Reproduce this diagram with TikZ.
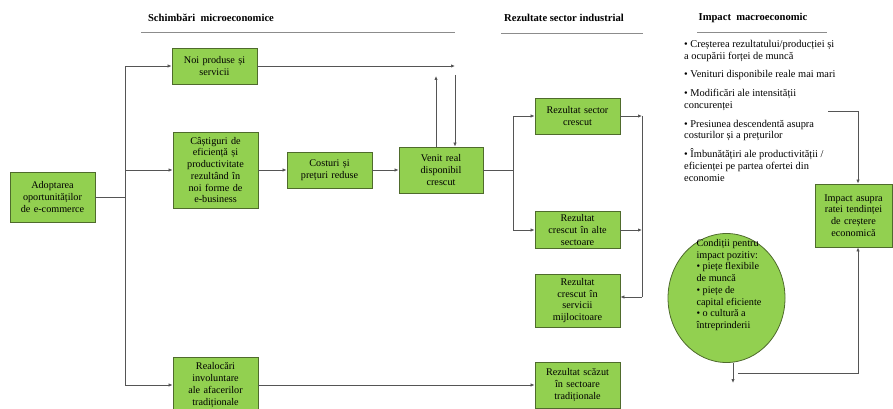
\documentclass[tikz,border=0pt]{standalone}
\usepackage{fontspec}
\setmainfont{Liberation Serif}
\usetikzlibrary{arrows.meta,shapes.geometric}
\definecolor{boxgreen}{HTML}{92D050}
\definecolor{boxedge}{HTML}{4F6B2C}
\definecolor{wire}{HTML}{555555}
\begin{document}
\begin{tikzpicture}[x=1pt,y=-1pt,
  every node/.style={font=\fontsize{10.2}{11.7}\selectfont},
  box/.style={draw=boxedge,fill=boxgreen,line width=0.8pt,inner sep=1pt,
    align=center,text width=#1},
  box/.default=81pt,
  heading/.style={font=\fontsize{10.6}{12}\selectfont\bfseries},
  rule/.style={draw=black!45,line width=0.8pt},
  wire/.style={draw=wire,line width=0.75pt},
  arr/.style={wire,-{Latex[length=4pt,width=3.4pt]}}]
\useasboundingbox (0,0) rectangle (893,409);
\clip (0,0) rectangle (893,409);

% column headings
\node[heading] (h1) at (211,18) {Schimbări\ \ microeconomice};
\node[heading] (h2) at (564,18) {Rezultate sector industrial};
\node[heading] (h3) at (753,18) {Impact\ \ macroeconomic};
\draw[rule] (141,32) -- (455,32);
\draw[rule] (501,33) -- (643,33);
\draw[rule] (697,32) -- (827,32);

% micro-level boxes
\node[box,minimum width=85pt,minimum height=50pt] (adopt) at (52.5,197)
  {Adoptarea\\ oportunităților\\ de e-commerce};
\node[box,minimum width=85pt,minimum height=36pt] (noi) at (214.5,66)
  {Noi produse și\\ servicii};
\node[box,minimum width=85pt,minimum height=76pt] (castig) at (215.5,170)
  {Câștiguri de\\ eficiență și\\ productivitate\\ rezultând în\\ noi forme de\\ e-business};
\node[box,minimum width=85pt,minimum height=36pt] (cost) at (329.5,170)
  {Costuri și\\ prețuri reduse};
\node[box,minimum width=84pt,minimum height=46pt] (venit) at (441,170)
  {Venit real\\ disponibil\\ crescut};
\node[box,minimum width=85pt,minimum height=56pt] (realoc) at (215.5,385)
  {Realocări\\ involuntare\\ ale afacerilor\\ tradiționale};

% sector-level boxes
\node[box,minimum width=85pt,minimum height=36pt] (rsc) at (577.5,116)
  {Rezultat sector\\ crescut};
\node[box,minimum width=85pt,minimum height=37pt] (ralte) at (577.5,230)
  {Rezultat\\ crescut în alte\\ sectoare};
\node[box,minimum width=85pt,minimum height=53pt] (serv) at (577.5,300.5)
  {Rezultat\\ crescut în\\ servicii\\ mijlocitoare};
\node[box,minimum width=85pt,minimum height=46pt] (scazut) at (577.5,385)
  {Rezultat scăzut\\ în sectoare\\ tradiționale};

% macro-level elements
\node[box=74pt,minimum width=77pt,minimum height=63pt] (impact) at (853.5,215.5)
  {Impact asupra\\ ratei tendinței\\ de creștere\\ economică};
\node[draw=boxedge,fill=boxgreen,line width=0.8pt,ellipse,
  minimum width=117pt,minimum height=129pt,inner sep=0pt] (cond) at (726.5,298) {};
\node[align=left,inner sep=0pt] (condtext) at (729,285)
  {Condiții pentru\\ impact pozitiv:\\ • piețe flexibile\\ de muncă\\ • piețe de\\
   capital eficiente\\ • o cultură a\\ întreprinderii};
\node[align=left,anchor=north west,inner sep=0pt,
  font=\fontsize{10.4}{11.7}\selectfont] (macro) at (684,40)
  {• Creșterea rezultatului/producției și\\ a ocupării forței de muncă\\[6.8pt]
   • Venituri disponibile reale mai mari\\[7.2pt]
   • Modificări ale intensității\\ concurenței\\[7.2pt]
   • Presiunea descendentă asupra\\ costurilor și a prețurilor\\[7.2pt]
   • Îmbunătățiri ale productivității /\\ eficienței pe partea ofertei din\\ economie};

% junction and free-end points
\coordinate (splitA) at (125,197);
\coordinate (topin) at (455,66);
\coordinate (upend) at (436,76);
\coordinate (dnstart) at (455,75);
\coordinate (splitB) at (513,170);
\coordinate (railR) at (642,116);
\coordinate (railS) at (642,297);
\coordinate (macroout) at (828,111);
\coordinate (macrobend) at (858,111);
\coordinate (condend) at (733,383);
\coordinate (condout) at (738,373);
\coordinate (condbend) at (858,373);

% micro-level connectors
\draw[wire] (adopt.east) -- (splitA);
\draw[arr] (splitA) |- (noi.west);
\draw[arr] (splitA) |- (castig.west);
\draw[arr] (splitA) |- (realoc.west);
\draw[arr] (noi.east) -- (topin);
\draw[arr] (castig.east) -- (cost.west);
\draw[arr] (cost.east) -- (venit.west);
\draw[arr] (upend |- venit.north) -- (upend);
\draw[arr] (dnstart) -- (dnstart |- venit.north);
\draw[arr] (realoc.east) -- (scazut.west);

% sector-level connectors
\draw[wire] (venit.east) -- (splitB);
\draw[arr] (splitB) |- (rsc.west);
\draw[arr] (splitB) |- (ralte.west);
\draw[arr] (rsc.east) -- (railR);
\draw[arr] (ralte.east) -- (railR |- ralte.east);
\draw[wire] (railR) -- (railS);
\draw[arr] (railS) -- (railS -| serv.east);

% macro-level connectors
\draw[arr] (macroout) -- (macrobend) -- (macrobend |- impact.north);
\draw[arr] (condend |- cond.south) -- (condend);
\draw[arr] (condout) -- (condbend) -- (condbend |- impact.south);
\end{tikzpicture}
\end{document}
